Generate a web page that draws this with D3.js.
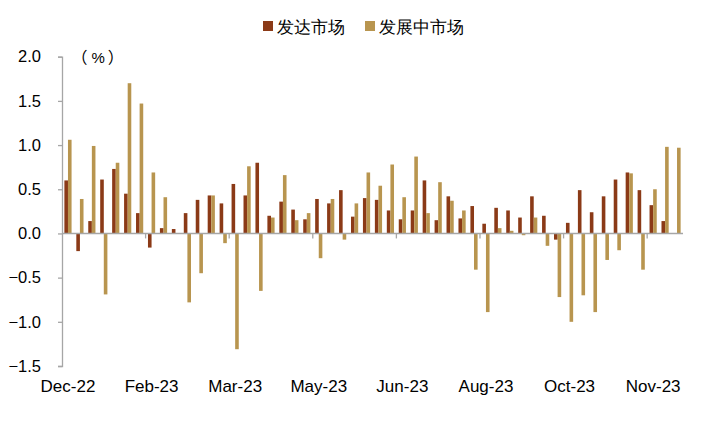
<!DOCTYPE html>
<html>
<head>
<meta charset="utf-8">
<script src="https://cdn.jsdelivr.net/npm/d3@7"></script>
<style>
  html, body { margin: 0; padding: 0; background: #fff; }
  svg { display: block; }
  text { font-family: "Liberation Sans", Arial, sans-serif; fill: #000; }
</style>
</head>
<body>
<svg id="chart" width="722" height="423"></svg>
<script>
// Weekly categories (Dec-22 .. Dec-23)
const categories = [
  "2022-12-16","2022-12-23","2022-12-30","2023-01-06","2023-01-13","2023-01-20","2023-01-27",
  "2023-02-03","2023-02-10","2023-02-17","2023-02-24","2023-03-03","2023-03-10","2023-03-17",
  "2023-03-24","2023-03-31","2023-04-07","2023-04-14","2023-04-21","2023-04-28","2023-05-05",
  "2023-05-12","2023-05-19","2023-05-26","2023-06-02","2023-06-09","2023-06-16","2023-06-23",
  "2023-06-30","2023-07-07","2023-07-14","2023-07-21","2023-07-28","2023-08-04","2023-08-11",
  "2023-08-18","2023-08-25","2023-09-01","2023-09-08","2023-09-15","2023-09-22","2023-09-29",
  "2023-10-06","2023-10-13","2023-10-20","2023-10-27","2023-11-03","2023-11-10","2023-11-17",
  "2023-11-24","2023-12-01","2023-12-08"
];
const seriesNames = ["发达市场", "发展中市场"];
const developed = [0.60,-0.20,0.14,0.61,0.73,0.45,0.23,-0.16,0.06,0.05,0.23,0.38,0.43,0.34,0.56,0.43,0.80,0.20,0.36,0.27,0.16,0.39,0.34,0.49,0.19,0.40,0.38,0.26,0.16,0.26,0.60,0.15,0.42,0.17,0.31,0.11,0.29,0.26,0.18,0.42,0.20,-0.07,0.12,0.49,0.24,0.42,0.61,0.69,0.49,0.32,0.14,0.00];
const developing = [1.06,0.39,0.99,-0.69,0.80,1.70,1.47,0.69,0.41,0.00,-0.78,-0.45,0.43,-0.11,-1.31,0.76,-0.65,0.18,0.66,0.15,0.23,-0.28,0.39,-0.07,0.34,0.69,0.54,0.78,0.41,0.87,0.23,0.58,0.37,0.26,-0.41,-0.89,0.06,0.03,-0.02,0.18,-0.14,-0.72,-1.00,-0.70,-0.89,-0.30,-0.19,0.68,-0.41,0.50,0.98,0.97];
const tickLabels = ["Dec-22","Feb-23","Mar-23","May-23","Jun-23","Aug-23","Oct-23","Nov-23"];
const yTicks = [-1.5,-1.0,-0.5,0.0,0.5,1.0,1.5,2.0];
const colors = ["#8B3A17", "#B8954F"];

const svg = d3.select("#chart");
const pLeft = 62, pRight = 683, pTop = 56.7, pBottom = 366;

const x = d3.scaleBand().domain(categories).range([pLeft, pRight]).paddingInner(0).paddingOuter(0);
const xSub = d3.scaleBand().domain(seriesNames).range([0, x.bandwidth()]).paddingInner(0).paddingOuter(0.66);
const y = d3.scaleLinear().domain([-1.5, 2.0]).range([pBottom, pTop]);

const rows = categories.map((c, i) => ({ c, vals: [developed[i], developing[i]] }));

// bars
const g = svg.append("g");
rows.forEach(r => {
  r.vals.forEach((v, k) => {
    g.append("rect")
      .attr("x", x(r.c) + xSub(seriesNames[k]))
      .attr("width", xSub.bandwidth())
      .attr("y", y(Math.max(0, v)))
      .attr("height", Math.abs(y(v) - y(0)))
      .attr("fill", colors[k]);
  });
});

// y axis
const yAxis = d3.axisLeft(y).tickValues(yTicks).tickFormat(d3.format(".1f")).tickSize(4).tickPadding(17);
const ya = svg.append("g").attr("transform", `translate(${pLeft},0)`).call(yAxis);
ya.select(".domain").attr("stroke", "#A6A6A6").attr("stroke-width", 1.3);
ya.selectAll(".tick line").attr("stroke", "#A6A6A6").attr("stroke-width", 1.3);
ya.selectAll(".tick text").attr("font-size", 16.5).attr("font-family", "Liberation Sans, Arial, sans-serif").attr("fill", "#000");

// zero axis line with boundary ticks every 7 categories
const tickCats = categories.filter((c, i) => i % 7 === 0);
const xa = svg.append("g").attr("transform", `translate(0,${y(0)})`);
xa.append("line").attr("x1", pLeft).attr("x2", pRight).attr("y1", 0).attr("y2", 0)
  .attr("stroke", "#A6A6A6").attr("stroke-width", 1.5);
xa.selectAll("line.tk").data(tickCats.slice(1)).enter().append("line").attr("class", "tk")
  .attr("x1", d => x(d)).attr("x2", d => x(d)).attr("y1", 0).attr("y2", 5)
  .attr("stroke", "#A6A6A6").attr("stroke-width", 1.3);

// category labels at bottom
const xLab = d3.axisBottom(x).tickValues(tickCats).tickFormat((d, i) => tickLabels[i]).tickSize(0).tickPadding(3);
const xl = svg.append("g").attr("transform", `translate(0,377)`).call(xLab);
xl.select(".domain").remove();
xl.selectAll(".tick text").attr("font-size", 17).attr("font-family", "Liberation Sans, Arial, sans-serif").attr("fill", "#000");

// unit label
const unit = svg.append("text").attr("x", 71.5).attr("y", 63).attr("font-size", 16);
unit.append("tspan").attr("font-family", "Noto Sans CJK SC, sans-serif").text("（");
unit.append("tspan").attr("dx", 4).attr("font-family", "Liberation Sans, Arial, sans-serif").attr("font-size", 15).text("%");
unit.append("tspan").attr("dx", 3).attr("font-family", "Noto Sans CJK SC, sans-serif").text("）");

// legend
const legend = svg.append("g");
const legX = [263, 365];
seriesNames.forEach((n, k) => {
  legend.append("rect").attr("x", legX[k]).attr("y", 21).attr("width", 10).attr("height", 10).attr("fill", colors[k]);
  legend.append("text").attr("x", legX[k] + 14).attr("y", 32.5).attr("font-size", 17)
    .attr("font-family", "Noto Sans CJK SC, sans-serif").text(n);
});
</script>
</body>
</html>
